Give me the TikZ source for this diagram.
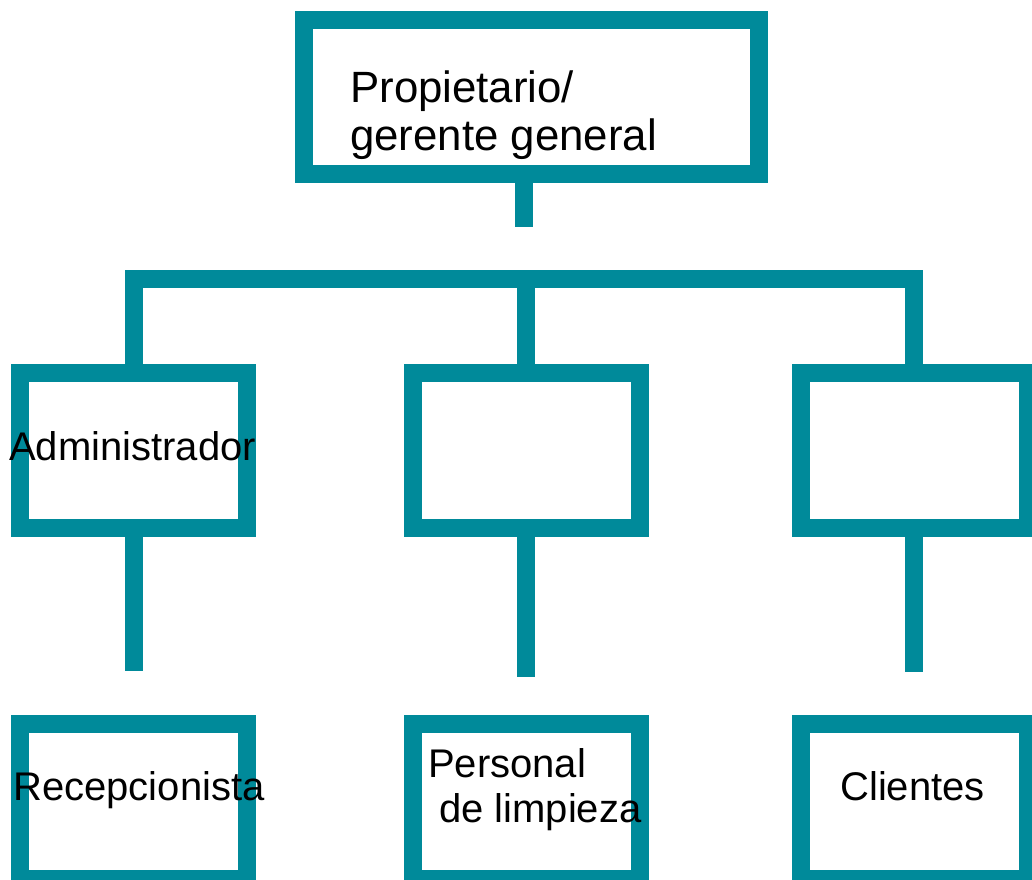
\documentclass[tikz,border=0pt]{standalone}
\usepackage{fontspec}
\setmainfont{Liberation Sans}
\usetikzlibrary{positioning}
\definecolor{orgteal}{RGB}{0,138,154}
\tikzset{
	x=1pt,
	y=-1pt,
	box/.style={draw=orgteal, line width=18pt, minimum width=227pt, minimum height=155pt, inner sep=0pt, outer sep=0pt},
	link/.style={draw=orgteal, line width=18pt},
	lbl/.style={inner sep=0pt, font=\fontsize{40}{46}\selectfont},
}

\begin{document}
\begin{tikzpicture}
	\useasboundingbox (0,0) rectangle (1032,879);
	\clip (0,0) rectangle (1032,879);
	% boxes
	\node[box, minimum width=455pt, minimum height=154pt] (OWNER) at (531.5,97) {};
	\node[box] (ADMIN) at (133.5,450.5) {};
	\node[box] (MIDDLE) at (526,450.5) {};
	\node[box] (RIGHT) at (914,450.5) {};
	\node[box, below=196pt of ADMIN] (RECEP) {};
	\node[box, below=196pt of MIDDLE] (CLEAN) {};
	\node[box, below=196pt of RIGHT] (CLIENTS) {};

	% connectors
	\coordinate (HUB) at (524,227);
	\coordinate (BAR) at (524,279);
	\coordinate[below=143pt of ADMIN.south] (s0);
	\coordinate[below=149pt of MIDDLE.south] (s1);
	\coordinate[below=144pt of RIGHT.south] (s2);
	\draw[link] (OWNER.south -| HUB) -- (HUB);
	\draw[link] (ADMIN.north) |- (BAR) -| (RIGHT.north);
	\draw[link] (MIDDLE.north) -- (MIDDLE.north |- BAR);
	\draw[link] (ADMIN.south) -- (s0);
	\draw[link] (MIDDLE.south) -- (s1);
	\draw[link] (RIGHT.south) -- (s2);

	% labels
	\node[lbl, font=\fontsize{43.8}{48}\selectfont, anchor=base west] (t0) at (350,102) {Propietario/};
	\node[lbl, font=\fontsize{43.8}{48}\selectfont, anchor=base west] (t1) at (350,150) {gerente general};
	\node[lbl, anchor=base] (t2) at (132.5,460) {Administrador};
	\node[lbl, anchor=base] (t3) at (139,800) {Recepcionista};
	\node[lbl, anchor=base west] (t4) at (428,777) {Personal};
	\node[lbl, anchor=base west] (t5) at (439,822) {de limpieza};
	\node[lbl, anchor=base] (t6) at (912.5,800) {Clientes};
\end{tikzpicture}
\end{document}
